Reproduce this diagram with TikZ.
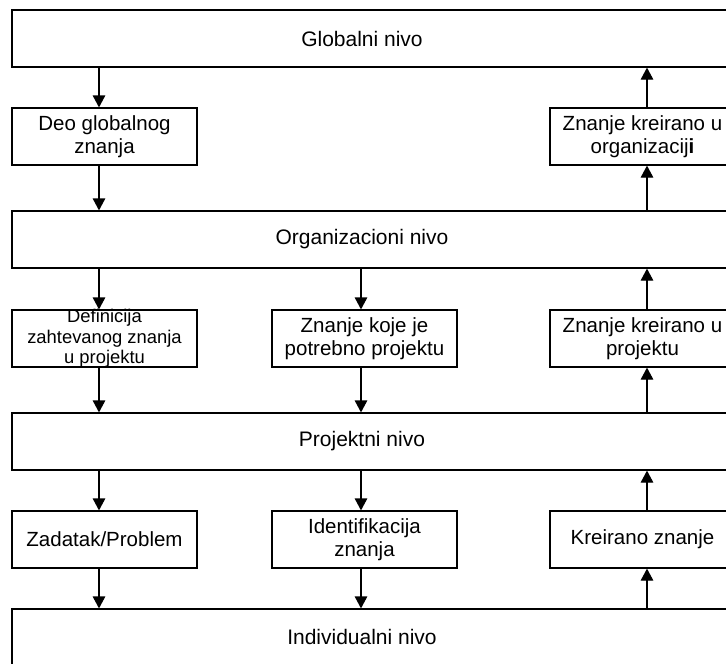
\documentclass[tikz,border=0pt]{standalone}
\usepackage{fontspec}
\setmainfont{Liberation Sans}
\usetikzlibrary{arrows.meta}
\begin{document}
\begin{tikzpicture}[x=1pt,y=-1pt,
  levelbox/.style={draw, line width=1.2pt, minimum width=728pt, minimum height=57pt,
    inner sep=0pt, font=\fontsize{21}{24}\selectfont},
  levellabel/.style={label={[xshift=-14pt, font=\fontsize{21}{24}\selectfont]center:#1}},
  stepbox/.style={draw, line width=1.2pt, minimum width=185pt, minimum height=57pt,
    inner sep=0pt, align=center, font=\fontsize{20.5}{23.5}\selectfont},
  arr/.style={line width=1.2pt, -{Triangle[length=12pt,width=12.5pt]}}]
  \useasboundingbox (0,0) rectangle (726,664);
  \clip (0,0) rectangle (726,664);
  \fill[white] (0,0) rectangle (726,664);

  % arrow columns
  \coordinate (cL) at (99,0);
  \coordinate (cM) at (361,0);
  \coordinate (cR) at (647,0);

  % levels
  \node[levelbox, levellabel={Globalni nivo}] (glob) at (376,38.5) {};
  \node[levelbox, levellabel={Organizacioni nivo}] (org) at (376,239.5) {};
  \node[levelbox, levellabel={Projektni nivo}] (proj) at (376,441.5) {};
  \node[levelbox, minimum height=71pt, label={[xshift=-14pt, yshift=7.5pt, font=\fontsize{21}{24}\selectfont]center:Individualni nivo}] (ind) at (376,644.5) {};

  % global <-> organization
  \node[stepbox] (deo) at (104.5,136.5) {Deo globalnog\\znanja};
  \node[stepbox] (korg) at (642.5,136.5) {Znanje kreirano u\\organizacij{\bfseries i}};

  % organization <-> project (three-line text runs over the frame)
  \node[stepbox, label={[align=center, inner sep=0pt, font=\fontsize{18.4}{20.5}\selectfont]center:Definicija\\zahtevanog znanja\\u projektu}] (def) at (104.5,338.5) {};
  \node[stepbox] (potr) at (364.5,338.5) {Znanje koje je\\potrebno projektu};
  \node[stepbox] (kproj) at (642.5,338.5) {Znanje kreirano u\\projektu};

  % project <-> individual
  \node[stepbox] (zad) at (104.5,539.5) {Zadatak/Problem};
  \node[stepbox] (ident) at (364.5,539.5) {Identifikacija\\znanja};
  \node[stepbox] (kre) at (642.5,539.5) {Kreirano znanje};

  % downward flow
  \draw[arr] (glob.south -| cL) -- (deo.north -| cL);
  \draw[arr] (deo.south -| cL) -- (org.north -| cL);
  \draw[arr] (org.south -| cL) -- (def.north -| cL);
  \draw[arr] (def.south -| cL) -- (proj.north -| cL);
  \draw[arr] (org.south -| cM) -- (potr.north -| cM);
  \draw[arr] (potr.south -| cM) -- (proj.north -| cM);
  \draw[arr] (proj.south -| cL) -- (zad.north -| cL);
  \draw[arr] (zad.south -| cL) -- (ind.north -| cL);
  \draw[arr] (proj.south -| cM) -- (ident.north -| cM);
  \draw[arr] (ident.south -| cM) -- (ind.north -| cM);

  % upward flow
  \draw[arr] (ind.north -| cR) -- (kre.south -| cR);
  \draw[arr] (kre.north -| cR) -- (proj.south -| cR);
  \draw[arr] (proj.north -| cR) -- (kproj.south -| cR);
  \draw[arr] (kproj.north -| cR) -- (org.south -| cR);
  \draw[arr] (org.north -| cR) -- (korg.south -| cR);
  \draw[arr] (korg.north -| cR) -- (glob.south -| cR);
\end{tikzpicture}
\end{document}
